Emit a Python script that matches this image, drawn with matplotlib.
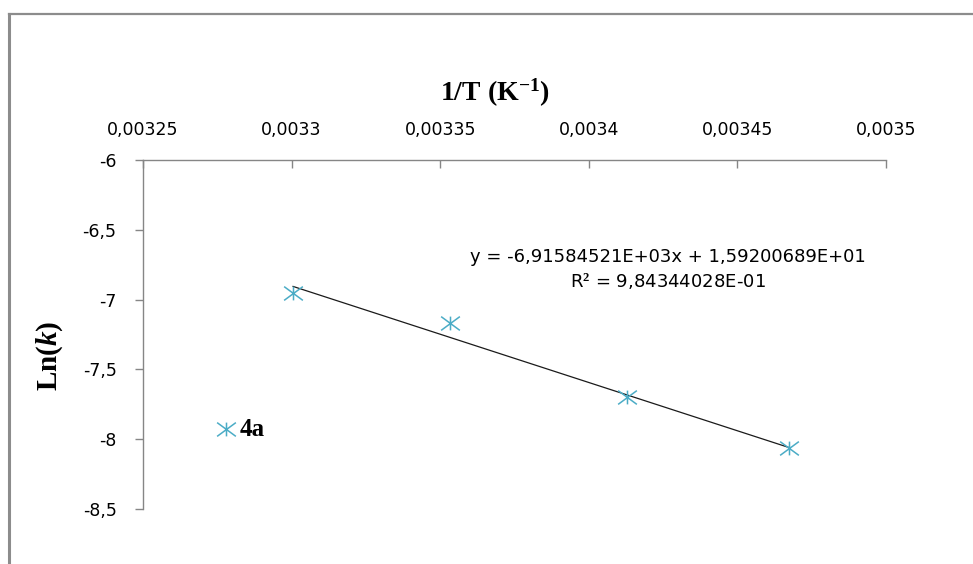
import matplotlib
matplotlib.use("Agg")
import matplotlib.pyplot as plt
from matplotlib.path import Path
from matplotlib.lines import Line2D
from matplotlib.ticker import FuncFormatter, MultipleLocator

# data
inv_T = [0.0033005, 0.0033533, 0.0034128, 0.0034674]
ln_k = [-6.95, -7.17, -7.70, -8.06]
slope = -6.91584521e3
intercept = 1.59200689e1
eq_text = "y = -6,91584521E+03x + 1,59200689E+01"
r2_text = "R$^2$ = 9,84344028E-01"
tag_x = [0.003278]
tag_y = [-7.93]
tag_text = "4a"

plt.rcParams["mathtext.fontset"] = "custom"
plt.rcParams["mathtext.rm"] = "Liberation Serif:bold"
plt.rcParams["mathtext.bf"] = "Liberation Serif:bold"
plt.rcParams["mathtext.it"] = "Liberation Serif:italic:bold"

W, H = 973, 564
fig = plt.figure(figsize=(W / 100, H / 100), dpi=100)

# outer chart frame (left and top edges visible)
fig.add_artist(Line2D([9 / W, 9 / W], [0, 1 - 14 / H], color="#8c8c8c", lw=2.2))
fig.add_artist(Line2D([9 / W, 1], [1 - 14 / H, 1 - 14 / H], color="#8c8c8c", lw=1.6))

ax = fig.add_axes([143 / W, 1 - 509 / H, (886 - 143) / W, (509 - 160) / H])

# excel-like asterisk marker
star = Path([(0, -0.5), (0, 0.5), (-0.68, -0.5), (0.68, 0.5), (-0.68, 0.5), (0.68, -0.5)],
            [Path.MOVETO, Path.LINETO] * 3)

xs = [min(inv_T), max(inv_T)]
ax.plot(xs, [slope * x + intercept for x in xs], color="#1a1a1a", lw=0.9, zorder=2)
ax.plot(inv_T, ln_k, ls="none", marker=star, ms=13.5, mew=1.1, mec="#4bacc6", zorder=3)
ax.plot(tag_x, tag_y, ls="none", marker=star, ms=13.5, mew=1.1, mec="#4bacc6", zorder=3)
ax.annotate(tag_text, (tag_x[0], tag_y[0]), xytext=(10, 0), textcoords="offset points",
            va="center", ha="left", fontsize=18, fontweight="bold", family="Liberation Serif")

ax.set_xlim(0.00325, 0.0035)
ax.set_ylim(-8.5, -6)
ax.xaxis.set_major_locator(MultipleLocator(0.00005))
ax.yaxis.set_major_locator(MultipleLocator(0.5))
ax.xaxis.set_major_formatter(FuncFormatter(lambda v, p: ("%g" % round(v, 6)).replace(".", ",")))
ax.yaxis.set_major_formatter(FuncFormatter(lambda v, p: ("%g" % v).replace(".", ",")))
ax.xaxis.tick_top()
ax.tick_params(axis="x", direction="in", length=6, width=1, color="#868686", pad=15, labelsize=12.5)
ax.tick_params(axis="y", direction="out", length=6, width=1, color="#868686", pad=13, labelsize=12.5)
for s in ["right", "bottom"]:
    ax.spines[s].set_visible(False)
for s in ["top", "left"]:
    ax.spines[s].set_color("#868686")
    ax.spines[s].set_linewidth(1)

fig.text(495 / W, 1 - 93 / H, r"$\mathbf{1/T\ (K}^{\mathbf{-1}}\mathbf{)}$", fontsize=20,
         ha="center", va="center")
fig.text(50 / W, 1 - 356 / H, r"$\mathbf{Ln(}\mathit{k}\mathbf{)}$", fontsize=21,
         ha="center", va="center", rotation=90)

fig.text(668 / W, 1 - 257 / H, eq_text, fontsize=13, ha="center", va="center")
fig.text(668 / W, 1 - 281 / H, r2_text, fontsize=13, ha="center", va="center")

fig.savefig("out.png", dpi=100)
